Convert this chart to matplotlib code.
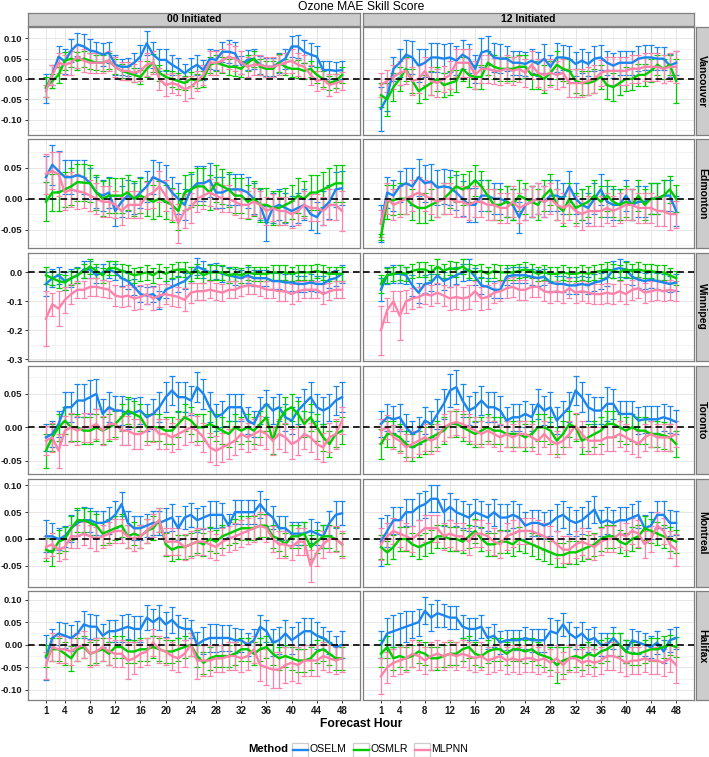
import matplotlib
matplotlib.use('Agg')
import matplotlib.pyplot as plt
from matplotlib.patches import Rectangle
from matplotlib.lines import Line2D

plt.rcParams['font.family'] = ['Liberation Sans', 'DejaVu Sans']

hours = list(range(1, 49))
x_breaks = [1, 4, 8, 12, 16, 20, 24, 28, 32, 36, 40, 44, 48]
methods = ['OSELM', 'OSMLR', 'MLPNN']
colors = ['#1C86EE', '#00CD00', '#FF82AB']
cities = ['Vancouver', 'Edmonton', 'Winnipeg', 'Toronto', 'Montreal', 'Halifax']
inits = ['00 Initiated', '12 Initiated']

# ---------------- Vancouver ----------------
van00_oselm = [-0.023,0.010,0.055,0.043,0.070,0.085,0.080,0.070,0.067,0.060,0.065,0.035,0.030,0.030,0.040,0.055,0.088,0.060,0.047,0.047,0.035,0.026,0.014,0.026,0.035,0.022,0.050,0.047,0.067,0.067,0.063,0.035,0.047,0.050,0.035,0.030,0.030,0.040,0.050,0.080,0.080,0.067,0.060,0.055,0.022,0.022,0.020,0.022]
van00_oselm_err = [0.035,0.025,0.025,0.030,0.028,0.028,0.030,0.028,0.025,0.028,0.025,0.025,0.020,0.022,0.025,0.028,0.030,0.032,0.028,0.028,0.025,0.025,0.022,0.025,0.025,0.025,0.025,0.025,0.025,0.028,0.028,0.022,0.025,0.025,0.022,0.022,0.022,0.025,0.025,0.025,0.028,0.028,0.028,0.025,0.022,0.022,0.022,0.022]
van00_osmlr = [-0.020,-0.005,0.010,0.045,0.050,0.045,0.050,0.045,0.040,0.040,0.045,0.030,0.020,0.015,0.010,0.005,0.025,0.040,0.015,0.005,0.000,-0.005,-0.010,0.000,-0.005,0.000,0.035,0.040,0.035,0.030,0.030,0.025,0.040,0.050,0.030,0.025,0.025,0.040,0.030,0.025,0.025,0.020,0.025,0.010,0.000,-0.010,-0.005,0.010]
van00_osmlr_err = [0.025,0.018,0.020,0.022,0.020,0.022,0.020,0.020,0.018,0.020,0.020,0.018,0.018,0.018,0.018,0.018,0.020,0.022,0.020,0.018,0.020,0.020,0.018,0.018,0.018,0.020,0.020,0.020,0.020,0.020,0.022,0.020,0.020,0.020,0.020,0.020,0.020,0.022,0.020,0.020,0.022,0.020,0.020,0.020,0.020,0.018,0.018,0.020]
van00_mlpnn = [-0.030,0.010,0.040,0.035,0.040,0.055,0.045,0.040,0.040,0.040,0.045,0.030,0.020,0.020,0.015,0.020,0.035,0.040,0.000,-0.015,-0.010,-0.015,-0.025,-0.020,-0.005,0.010,0.040,0.040,0.045,0.055,0.050,0.040,0.030,0.035,0.035,0.030,0.030,0.035,0.040,0.045,0.035,0.030,0.010,-0.005,0.000,-0.015,-0.010,-0.005]
van00_mlpnn_err = [0.015,0.025,0.025,0.025,0.030,0.028,0.028,0.025,0.025,0.025,0.025,0.025,0.022,0.022,0.022,0.025,0.028,0.028,0.028,0.028,0.025,0.025,0.030,0.028,0.025,0.025,0.030,0.030,0.028,0.030,0.030,0.028,0.025,0.025,0.025,0.025,0.025,0.025,0.025,0.030,0.028,0.028,0.025,0.025,0.025,0.028,0.022,0.022]

van12_oselm = [-0.074,-0.045,0.025,0.040,0.060,0.053,0.033,0.040,0.053,0.053,0.050,0.053,0.045,0.060,0.050,0.025,0.065,0.070,0.053,0.050,0.050,0.040,0.040,0.037,0.045,0.037,0.050,0.030,0.053,0.053,0.050,0.037,0.045,0.037,0.050,0.053,0.040,0.033,0.040,0.040,0.040,0.050,0.053,0.053,0.050,0.050,0.033,0.040]
van12_oselm_err = [0.055,0.035,0.030,0.035,0.035,0.040,0.040,0.035,0.035,0.035,0.035,0.035,0.035,0.035,0.035,0.035,0.035,0.035,0.035,0.035,0.030,0.030,0.030,0.030,0.030,0.030,0.035,0.030,0.035,0.030,0.030,0.030,0.030,0.030,0.030,0.030,0.030,0.030,0.030,0.030,0.030,0.030,0.030,0.030,0.028,0.028,0.028,0.030]
van12_osmlr = [-0.040,-0.050,-0.020,0.000,0.025,-0.005,-0.030,-0.020,-0.010,0.000,-0.015,-0.010,-0.005,0.025,0.010,0.005,0.005,0.040,0.030,0.025,0.025,0.025,0.030,0.030,0.010,0.010,0.000,0.015,0.035,0.025,0.020,-0.005,-0.010,-0.010,-0.005,0.005,-0.015,-0.020,-0.010,0.000,0.000,0.010,0.010,0.020,0.035,0.025,0.035,-0.005]
van12_osmlr_err = [0.030,0.040,0.035,0.030,0.030,0.030,0.030,0.030,0.030,0.030,0.030,0.030,0.028,0.030,0.030,0.030,0.030,0.030,0.030,0.030,0.030,0.030,0.030,0.028,0.035,0.035,0.035,0.030,0.035,0.030,0.030,0.030,0.030,0.030,0.030,0.030,0.035,0.035,0.030,0.030,0.028,0.028,0.028,0.028,0.025,0.025,0.025,0.055]
van12_mlpnn = [-0.015,-0.005,0.005,0.015,0.020,-0.005,0.000,0.020,-0.005,-0.010,0.000,0.010,0.040,0.040,0.040,0.010,0.025,0.025,0.020,0.020,0.025,0.020,0.025,0.015,0.035,0.015,0.010,0.015,0.010,0.015,-0.010,-0.010,-0.010,-0.005,0.000,0.015,0.020,0.020,0.020,0.020,0.025,0.025,0.030,0.030,0.030,0.025,0.030,0.030]
van12_mlpnn_err = [0.030,0.028,0.030,0.030,0.032,0.035,0.035,0.035,0.035,0.035,0.032,0.035,0.035,0.035,0.035,0.035,0.035,0.035,0.032,0.035,0.035,0.035,0.032,0.035,0.035,0.035,0.038,0.035,0.035,0.035,0.035,0.035,0.035,0.035,0.035,0.032,0.035,0.035,0.035,0.035,0.035,0.035,0.035,0.035,0.035,0.035,0.035,0.040]

# ---------------- Edmonton ----------------
edm00_oselm = [0.035,0.055,0.045,0.035,0.035,0.038,0.035,0.025,0.010,0.005,0.010,-0.020,-0.005,0.005,0.000,0.010,0.020,0.035,0.030,0.025,0.010,0.000,-0.010,0.015,0.025,0.025,0.030,0.010,0.010,0.015,0.015,0.015,0.010,0.000,-0.010,-0.040,-0.015,-0.010,-0.015,-0.020,-0.015,-0.010,-0.025,-0.030,-0.015,-0.005,0.015,0.017]
edm00_oselm_err = [0.035,0.032,0.032,0.028,0.028,0.025,0.028,0.025,0.025,0.025,0.025,0.025,0.025,0.025,0.025,0.025,0.025,0.028,0.030,0.030,0.025,0.025,0.025,0.025,0.028,0.028,0.028,0.025,0.025,0.025,0.025,0.025,0.025,0.025,0.025,0.028,0.025,0.025,0.025,0.025,0.025,0.025,0.025,0.025,0.028,0.028,0.028,0.028]
edm00_osmlr = [-0.005,0.010,0.010,0.015,0.020,0.027,0.026,0.025,0.010,0.000,0.005,0.005,0.005,0.010,0.000,0.005,0.000,-0.005,0.000,-0.005,-0.010,-0.020,0.010,0.015,0.020,0.020,0.010,0.025,0.020,0.015,0.005,0.005,-0.005,0.000,-0.010,-0.010,-0.015,-0.015,-0.010,-0.005,0.005,0.000,0.010,0.010,0.015,0.020,0.025,0.025]
edm00_osmlr_err = [0.032,0.030,0.030,0.028,0.030,0.030,0.030,0.030,0.028,0.028,0.028,0.028,0.028,0.028,0.028,0.028,0.028,0.028,0.028,0.028,0.028,0.030,0.028,0.028,0.030,0.030,0.028,0.030,0.028,0.028,0.028,0.028,0.028,0.028,0.028,0.028,0.028,0.028,0.028,0.028,0.028,0.028,0.028,0.028,0.028,0.030,0.030,0.030]
edm00_mlpnn = [0.040,0.045,0.040,0.010,0.015,0.012,0.010,0.005,0.000,-0.005,-0.005,-0.010,-0.020,-0.010,-0.010,-0.010,0.005,0.010,0.020,0.005,-0.010,-0.040,-0.020,-0.015,0.000,0.005,0.010,0.005,0.000,0.000,-0.005,-0.010,-0.010,-0.005,-0.010,-0.020,-0.015,-0.020,-0.020,-0.025,-0.020,-0.010,-0.015,-0.015,-0.020,-0.010,-0.010,-0.020]
edm00_mlpnn_err = [0.032,0.030,0.035,0.028,0.028,0.028,0.025,0.025,0.025,0.025,0.025,0.022,0.022,0.022,0.022,0.022,0.022,0.025,0.025,0.025,0.025,0.032,0.028,0.025,0.022,0.022,0.022,0.022,0.022,0.022,0.022,0.022,0.022,0.022,0.022,0.022,0.022,0.022,0.022,0.022,0.022,0.022,0.022,0.022,0.022,0.025,0.025,0.032]

edm12_oselm = [-0.040,0.010,0.005,0.020,0.025,0.020,0.035,0.025,0.028,0.018,0.020,0.018,0.010,0.000,-0.010,-0.010,0.005,0.005,0.000,0.000,-0.005,-0.010,-0.030,-0.010,-0.005,0.000,-0.005,0.005,0.005,0.000,0.020,0.000,-0.010,-0.015,0.000,0.015,-0.005,-0.010,-0.010,0.005,-0.010,-0.005,-0.005,0.000,0.000,0.005,0.005,-0.020]
edm12_oselm_err = [0.030,0.025,0.025,0.025,0.025,0.030,0.030,0.030,0.028,0.028,0.028,0.028,0.028,0.028,0.028,0.028,0.025,0.025,0.025,0.025,0.025,0.025,0.025,0.025,0.025,0.025,0.025,0.025,0.025,0.025,0.025,0.025,0.025,0.025,0.025,0.025,0.025,0.025,0.025,0.025,0.025,0.025,0.025,0.025,0.025,0.025,0.025,0.025]
edm12_osmlr = [-0.062,-0.005,-0.002,0.000,0.000,-0.010,-0.015,-0.015,-0.010,-0.005,0.000,0.010,0.020,0.015,0.020,0.030,0.020,0.005,-0.010,-0.010,-0.005,-0.010,0.005,0.000,-0.005,-0.010,0.005,0.015,-0.010,-0.020,0.000,-0.015,-0.010,-0.005,0.005,-0.005,0.005,-0.005,-0.010,-0.005,-0.010,0.005,-0.010,0.000,0.000,0.005,0.015,0.000]
edm12_osmlr_err = [0.005,0.028,0.025,0.025,0.025,0.025,0.025,0.025,0.025,0.025,0.025,0.025,0.025,0.025,0.025,0.025,0.025,0.025,0.025,0.025,0.025,0.025,0.025,0.025,0.025,0.025,0.025,0.025,0.025,0.025,0.025,0.025,0.025,0.025,0.025,0.025,0.025,0.025,0.025,0.025,0.025,0.025,0.025,0.025,0.025,0.025,0.022,0.022]
edm12_mlpnn = [-0.040,0.000,-0.010,-0.005,0.000,0.005,0.010,0.005,0.000,-0.005,0.000,0.000,-0.005,-0.005,-0.010,-0.005,-0.005,-0.010,-0.010,-0.015,-0.015,-0.005,-0.015,-0.010,-0.005,0.000,-0.005,0.000,-0.010,-0.015,-0.010,-0.020,-0.025,-0.020,-0.020,-0.020,-0.015,-0.020,-0.015,-0.010,-0.010,-0.015,-0.015,-0.015,-0.020,-0.020,-0.025,-0.025]
edm12_mlpnn_err = [0.022,0.025,0.025,0.025,0.025,0.025,0.025,0.025,0.025,0.025,0.025,0.025,0.025,0.025,0.025,0.025,0.025,0.025,0.025,0.025,0.025,0.025,0.025,0.025,0.025,0.025,0.025,0.025,0.025,0.025,0.025,0.025,0.025,0.025,0.025,0.025,0.025,0.025,0.025,0.025,0.025,0.025,0.025,0.025,0.025,0.025,0.025,0.022]

# ---------------- Winnipeg ----------------
win00_oselm = [-0.040,-0.020,-0.010,-0.030,-0.020,-0.010,0.010,0.010,-0.010,0.000,0.010,0.000,-0.020,-0.030,-0.050,-0.075,-0.080,-0.075,-0.095,-0.060,-0.050,-0.040,-0.030,-0.010,0.020,0.010,0.000,0.005,-0.005,-0.010,-0.015,-0.020,-0.010,-0.020,-0.020,-0.020,-0.030,-0.030,-0.035,-0.035,-0.040,-0.040,-0.035,-0.040,-0.040,-0.025,-0.020,-0.005]
win00_oselm_err = [0.040,0.030,0.030,0.030,0.030,0.028,0.028,0.028,0.028,0.028,0.028,0.028,0.028,0.028,0.028,0.028,0.028,0.028,0.030,0.030,0.028,0.028,0.028,0.028,0.030,0.028,0.028,0.028,0.028,0.028,0.028,0.028,0.028,0.028,0.028,0.028,0.028,0.028,0.028,0.028,0.028,0.028,0.028,0.028,0.028,0.028,0.028,0.030]
win00_osmlr = [-0.010,-0.020,-0.030,-0.035,-0.020,-0.010,0.005,0.020,0.005,-0.010,0.015,0.015,0.005,0.000,-0.010,-0.005,0.000,-0.010,0.005,-0.005,0.005,0.010,0.010,-0.005,0.005,-0.010,0.000,0.000,0.000,-0.010,-0.005,-0.010,0.000,-0.005,-0.005,-0.005,0.000,0.000,0.000,-0.005,0.000,0.000,0.000,0.005,0.000,-0.005,-0.005,-0.005]
win00_osmlr_err = [0.030,0.025,0.025,0.025,0.025,0.025,0.025,0.025,0.025,0.025,0.025,0.025,0.025,0.025,0.025,0.025,0.025,0.025,0.025,0.025,0.025,0.025,0.025,0.025,0.025,0.025,0.025,0.025,0.025,0.025,0.025,0.025,0.025,0.025,0.025,0.025,0.025,0.025,0.025,0.025,0.025,0.025,0.025,0.025,0.025,0.025,0.025,0.025]
win00_mlpnn = [-0.160,-0.110,-0.125,-0.095,-0.075,-0.060,-0.060,-0.050,-0.050,-0.055,-0.060,-0.080,-0.085,-0.080,-0.090,-0.085,-0.075,-0.090,-0.080,-0.075,-0.080,-0.085,-0.095,-0.070,-0.065,-0.065,-0.060,-0.065,-0.070,-0.060,-0.060,-0.050,-0.045,-0.045,-0.050,-0.060,-0.060,-0.065,-0.065,-0.075,-0.065,-0.060,-0.060,-0.060,-0.075,-0.065,-0.060,-0.060]
win00_mlpnn_err = [0.095,0.040,0.060,0.045,0.035,0.030,0.030,0.030,0.030,0.030,0.030,0.035,0.035,0.035,0.040,0.040,0.035,0.040,0.040,0.035,0.035,0.035,0.040,0.035,0.030,0.030,0.030,0.030,0.030,0.030,0.030,0.030,0.030,0.030,0.030,0.030,0.030,0.035,0.035,0.035,0.035,0.030,0.030,0.030,0.035,0.030,0.030,0.030]

win12_oselm = [-0.060,-0.010,-0.005,-0.005,-0.010,-0.045,-0.070,-0.040,-0.035,-0.010,-0.030,-0.020,-0.010,0.000,0.010,-0.015,-0.045,-0.050,-0.060,-0.060,-0.015,-0.010,-0.010,-0.010,-0.015,-0.020,-0.015,-0.035,-0.040,-0.040,-0.045,-0.045,-0.040,-0.045,-0.035,-0.030,-0.020,0.010,0.015,0.010,-0.015,-0.025,-0.030,-0.025,-0.030,-0.035,-0.040,-0.035]
win12_oselm_err = [0.040,0.030,0.030,0.030,0.030,0.035,0.035,0.030,0.030,0.030,0.030,0.030,0.030,0.030,0.035,0.030,0.030,0.030,0.030,0.030,0.030,0.028,0.028,0.028,0.028,0.028,0.028,0.028,0.028,0.028,0.028,0.028,0.028,0.028,0.028,0.028,0.028,0.030,0.030,0.030,0.028,0.028,0.028,0.028,0.028,0.028,0.028,0.028]
win12_osmlr = [-0.040,-0.010,-0.005,0.000,-0.005,0.005,0.010,0.010,0.000,0.020,0.005,0.015,0.010,0.020,0.005,0.000,0.005,-0.005,0.005,0.000,0.000,0.000,0.005,0.010,0.005,-0.005,0.000,-0.005,-0.005,0.000,-0.005,-0.005,0.000,-0.005,0.000,0.005,0.010,0.005,0.000,0.010,0.005,0.010,0.005,0.005,0.000,0.000,-0.010,-0.020]
win12_osmlr_err = [0.030,0.025,0.025,0.025,0.025,0.025,0.025,0.025,0.025,0.025,0.025,0.025,0.025,0.025,0.025,0.025,0.025,0.025,0.025,0.025,0.025,0.025,0.025,0.025,0.025,0.025,0.025,0.025,0.025,0.025,0.025,0.025,0.025,0.025,0.025,0.025,0.025,0.025,0.025,0.025,0.025,0.025,0.025,0.025,0.025,0.025,0.025,0.025]
win12_mlpnn = [-0.200,-0.130,-0.100,-0.150,-0.100,-0.090,-0.085,-0.075,-0.080,-0.070,-0.080,-0.090,-0.085,-0.090,-0.085,-0.065,-0.090,-0.085,-0.070,-0.065,-0.055,-0.050,-0.060,-0.060,-0.050,-0.050,-0.065,-0.070,-0.065,-0.070,-0.055,-0.070,-0.065,-0.070,-0.075,-0.075,-0.070,-0.075,-0.065,-0.075,-0.060,-0.055,-0.070,-0.065,-0.060,-0.065,-0.060,-0.065]
win12_mlpnn_err = [0.085,0.040,0.035,0.085,0.040,0.035,0.035,0.035,0.035,0.035,0.035,0.040,0.040,0.040,0.040,0.035,0.040,0.040,0.035,0.035,0.035,0.035,0.035,0.035,0.035,0.035,0.035,0.035,0.035,0.035,0.035,0.035,0.035,0.035,0.035,0.035,0.035,0.035,0.035,0.035,0.035,0.035,0.035,0.035,0.035,0.035,0.035,0.035]

# ---------------- Toronto ----------------
tor00_oselm = [-0.015,-0.010,0.005,0.030,0.030,0.040,0.040,0.045,0.050,0.020,0.030,0.025,0.025,0.020,0.022,0.025,0.015,0.020,0.030,0.045,0.055,0.045,0.045,0.040,0.060,0.050,0.030,0.015,0.020,0.030,0.030,0.030,0.010,0.005,0.025,0.035,0.025,0.030,0.015,0.010,0.025,0.035,0.045,0.030,0.025,0.030,0.040,0.045]
tor00_oselm_err = [0.020,0.020,0.020,0.022,0.022,0.025,0.025,0.025,0.022,0.022,0.022,0.022,0.022,0.022,0.022,0.020,0.020,0.022,0.022,0.022,0.022,0.022,0.022,0.022,0.022,0.022,0.022,0.020,0.020,0.020,0.020,0.020,0.020,0.020,0.020,0.020,0.020,0.020,0.020,0.020,0.020,0.022,0.022,0.020,0.020,0.020,0.022,0.022]
tor00_osmlr = [-0.035,-0.015,0.000,0.010,0.000,0.000,-0.005,-0.005,0.000,-0.005,0.000,0.005,0.015,0.025,0.020,0.015,0.000,0.000,0.000,-0.005,-0.005,0.005,0.015,0.010,0.000,0.000,0.005,0.000,-0.005,-0.010,0.000,-0.005,0.000,-0.005,0.005,0.015,-0.020,0.010,0.025,0.030,0.020,0.005,0.015,0.000,-0.015,-0.025,-0.010,-0.005]
tor00_osmlr_err = [0.025,0.020,0.020,0.020,0.020,0.020,0.020,0.020,0.020,0.020,0.020,0.020,0.020,0.020,0.020,0.020,0.020,0.020,0.020,0.020,0.020,0.020,0.020,0.020,0.020,0.020,0.020,0.020,0.020,0.020,0.020,0.020,0.020,0.020,0.020,0.020,0.020,0.020,0.020,0.020,0.020,0.020,0.020,0.020,0.020,0.020,0.020,0.020]
tor00_mlpnn = [-0.020,-0.015,-0.035,-0.005,0.000,-0.005,0.000,0.000,0.005,-0.005,0.005,0.005,-0.005,-0.005,-0.010,-0.010,-0.005,0.000,-0.010,-0.010,-0.015,-0.010,-0.005,0.000,-0.005,-0.015,-0.030,-0.035,-0.030,-0.025,-0.020,-0.010,-0.015,-0.010,-0.005,-0.010,-0.020,-0.010,-0.015,-0.025,-0.020,-0.010,-0.015,-0.025,-0.030,-0.015,-0.010,0.010]
tor00_mlpnn_err = [0.022,0.022,0.025,0.022,0.022,0.022,0.022,0.022,0.022,0.022,0.022,0.022,0.022,0.022,0.022,0.022,0.022,0.022,0.022,0.022,0.022,0.022,0.022,0.022,0.022,0.022,0.022,0.022,0.022,0.022,0.022,0.022,0.022,0.022,0.022,0.022,0.022,0.022,0.022,0.022,0.022,0.022,0.022,0.022,0.022,0.022,0.022,0.020]

tor12_oselm = [0.005,0.015,0.012,0.015,0.000,-0.010,-0.005,0.010,0.005,0.020,0.035,0.055,0.060,0.040,0.025,0.030,0.040,0.030,0.030,0.025,0.010,0.015,0.015,0.020,0.015,0.035,0.025,0.030,0.010,0.020,0.030,0.055,0.045,0.030,0.025,0.025,0.035,0.035,0.020,0.020,0.020,0.010,0.012,0.012,0.012,0.015,0.012,0.008]
tor12_oselm_err = [0.020,0.020,0.020,0.020,0.020,0.020,0.020,0.020,0.020,0.022,0.022,0.025,0.025,0.025,0.022,0.022,0.022,0.022,0.022,0.022,0.020,0.020,0.020,0.020,0.020,0.022,0.022,0.022,0.020,0.020,0.022,0.022,0.022,0.020,0.020,0.020,0.025,0.022,0.020,0.020,0.020,0.020,0.020,0.020,0.020,0.020,0.020,0.018]
tor12_osmlr = [-0.025,-0.010,-0.010,-0.015,-0.025,-0.030,-0.025,-0.020,-0.015,-0.010,-0.005,0.005,0.005,0.000,-0.005,-0.010,-0.005,0.000,-0.005,-0.005,-0.010,-0.010,-0.010,-0.015,-0.010,0.000,0.000,-0.005,-0.020,-0.010,0.005,0.000,-0.020,-0.015,-0.010,-0.005,0.005,0.005,0.000,-0.005,0.000,-0.005,-0.005,-0.010,-0.010,-0.012,-0.015,-0.025]
tor12_osmlr_err = [0.022,0.020,0.020,0.020,0.020,0.020,0.020,0.020,0.020,0.020,0.020,0.020,0.020,0.020,0.020,0.020,0.020,0.020,0.020,0.020,0.020,0.020,0.020,0.020,0.020,0.020,0.020,0.020,0.020,0.020,0.020,0.020,0.020,0.020,0.020,0.020,0.020,0.020,0.020,0.020,0.020,0.020,0.020,0.020,0.020,0.020,0.020,0.020]
tor12_mlpnn = [-0.005,0.000,-0.015,-0.020,-0.030,-0.025,-0.020,-0.015,-0.020,-0.015,0.000,0.005,0.008,0.005,0.000,-0.005,-0.010,-0.005,-0.010,-0.015,-0.010,-0.015,-0.010,-0.010,-0.015,-0.020,-0.010,-0.020,-0.025,-0.020,-0.010,0.002,-0.010,-0.020,-0.020,-0.020,-0.015,-0.015,-0.010,-0.015,-0.020,-0.025,-0.015,-0.010,-0.015,-0.015,-0.015,-0.010]
tor12_mlpnn_err = [0.018,0.018,0.018,0.018,0.020,0.020,0.020,0.020,0.020,0.020,0.020,0.020,0.020,0.020,0.020,0.020,0.020,0.020,0.020,0.020,0.020,0.020,0.020,0.020,0.020,0.020,0.020,0.020,0.020,0.020,0.020,0.020,0.020,0.020,0.020,0.020,0.020,0.020,0.020,0.020,0.020,0.020,0.020,0.020,0.020,0.020,0.020,0.020]

# ---------------- Montreal ----------------
mtl00_oselm = [0.005,0.005,0.000,0.005,0.020,0.030,0.035,0.035,0.030,0.030,0.035,0.045,0.065,0.030,0.020,0.020,0.025,0.030,0.030,0.035,0.040,0.020,0.040,0.045,0.035,0.040,0.045,0.045,0.045,0.025,0.050,0.050,0.050,0.050,0.065,0.050,0.040,0.020,0.020,0.010,0.010,0.010,0.015,0.010,0.005,0.030,0.045,0.048]
mtl00_oselm_err = [0.030,0.025,0.020,0.020,0.025,0.025,0.025,0.022,0.022,0.022,0.025,0.025,0.022,0.022,0.022,0.022,0.022,0.022,0.022,0.022,0.025,0.022,0.022,0.022,0.022,0.022,0.025,0.025,0.022,0.022,0.022,0.022,0.022,0.022,0.025,0.025,0.022,0.022,0.022,0.022,0.022,0.022,0.022,0.022,0.022,0.022,0.025,0.022]
mtl00_osmlr = [-0.020,-0.025,-0.005,0.000,0.020,0.035,0.035,0.030,0.025,0.010,0.015,0.020,0.025,0.005,0.010,0.005,0.015,0.020,0.035,-0.010,-0.020,-0.015,-0.015,-0.010,-0.005,-0.010,0.000,-0.005,0.005,0.010,0.015,0.020,0.020,0.020,0.025,0.025,0.005,0.000,-0.010,0.005,0.005,0.010,-0.015,-0.005,0.005,0.005,0.000,-0.010]
mtl00_osmlr_err = [0.022,0.025,0.022,0.022,0.022,0.022,0.022,0.022,0.022,0.022,0.022,0.022,0.022,0.022,0.022,0.022,0.022,0.022,0.022,0.022,0.022,0.022,0.022,0.022,0.022,0.022,0.022,0.022,0.022,0.022,0.022,0.022,0.022,0.022,0.022,0.022,0.022,0.022,0.022,0.022,0.022,0.022,0.022,0.022,0.022,0.022,0.022,0.022]
mtl00_mlpnn = [-0.015,-0.010,-0.020,-0.015,0.005,0.005,0.010,0.005,0.000,0.005,0.010,0.015,0.015,0.005,0.000,0.005,0.015,0.025,0.035,-0.005,-0.005,-0.005,-0.015,-0.010,-0.005,-0.005,-0.010,-0.015,-0.005,0.000,0.005,0.010,0.015,0.020,0.025,0.020,0.000,-0.010,-0.010,-0.015,-0.005,-0.005,-0.050,-0.025,-0.010,0.000,0.000,-0.010]
mtl00_mlpnn_err = [0.020,0.022,0.022,0.022,0.022,0.022,0.022,0.022,0.022,0.022,0.022,0.022,0.022,0.022,0.022,0.022,0.022,0.022,0.022,0.025,0.025,0.025,0.025,0.025,0.025,0.025,0.025,0.025,0.025,0.025,0.025,0.025,0.025,0.025,0.025,0.025,0.025,0.025,0.025,0.025,0.025,0.025,0.030,0.025,0.025,0.025,0.025,0.025]

mtl12_oselm = [-0.005,0.015,0.035,0.035,0.050,0.050,0.060,0.065,0.075,0.075,0.050,0.060,0.050,0.045,0.040,0.050,0.045,0.040,0.050,0.040,0.040,0.045,0.040,0.025,0.030,0.030,0.025,0.030,0.040,0.045,0.035,0.030,0.035,0.045,0.055,0.030,0.035,0.030,0.035,0.035,0.040,0.045,0.020,0.025,0.045,0.045,0.030,0.030]
mtl12_oselm_err = [0.045,0.030,0.025,0.025,0.025,0.025,0.025,0.025,0.025,0.025,0.025,0.025,0.025,0.025,0.025,0.025,0.025,0.025,0.025,0.025,0.025,0.025,0.025,0.025,0.025,0.025,0.025,0.025,0.025,0.025,0.025,0.025,0.025,0.025,0.025,0.025,0.025,0.025,0.025,0.025,0.025,0.025,0.025,0.025,0.025,0.025,0.025,0.022]
mtl12_osmlr = [-0.015,-0.025,-0.015,0.000,0.000,-0.010,-0.015,-0.010,-0.005,0.005,0.005,0.000,0.000,-0.005,0.005,0.015,0.000,-0.010,-0.010,-0.005,-0.005,-0.010,0.000,-0.005,-0.010,-0.015,-0.020,-0.025,-0.030,-0.030,-0.025,-0.025,-0.020,-0.015,-0.010,0.000,0.005,0.005,-0.005,-0.010,0.000,0.005,0.020,0.015,0.010,0.005,0.000,-0.005]
mtl12_osmlr_err = [0.022,0.022,0.022,0.022,0.022,0.022,0.022,0.022,0.022,0.022,0.022,0.022,0.022,0.022,0.022,0.022,0.022,0.022,0.022,0.022,0.022,0.022,0.022,0.022,0.022,0.022,0.022,0.022,0.022,0.022,0.022,0.022,0.022,0.022,0.022,0.022,0.022,0.022,0.022,0.022,0.022,0.022,0.022,0.022,0.022,0.022,0.022,0.022]
mtl12_mlpnn = [-0.010,0.005,0.015,0.010,0.005,0.000,0.010,0.020,0.020,0.020,0.005,0.010,0.005,0.005,-0.005,0.010,0.010,0.005,-0.005,-0.010,0.005,0.010,0.015,0.015,0.015,0.010,0.005,0.000,-0.010,-0.020,-0.020,-0.010,-0.005,-0.010,-0.015,-0.005,0.000,0.000,0.010,0.005,0.015,0.010,-0.010,0.000,0.025,0.015,-0.010,-0.020]
mtl12_mlpnn_err = [0.030,0.025,0.025,0.025,0.025,0.025,0.025,0.025,0.025,0.025,0.025,0.025,0.025,0.025,0.025,0.025,0.025,0.025,0.025,0.025,0.025,0.025,0.025,0.025,0.025,0.025,0.025,0.025,0.025,0.025,0.025,0.025,0.025,0.025,0.025,0.025,0.025,0.025,0.025,0.025,0.025,0.025,0.025,0.025,0.025,0.025,0.025,0.030]

# ---------------- Halifax ----------------
hfx00_oselm = [-0.028,0.015,0.025,0.020,0.015,0.025,0.045,0.040,0.040,0.020,0.030,0.030,0.035,0.040,0.035,0.035,0.060,0.050,0.060,0.045,0.055,0.040,0.035,0.035,0.000,0.010,0.015,0.015,0.015,0.015,0.010,0.010,0.000,0.010,0.040,0.030,0.005,0.010,0.025,0.010,0.020,0.030,0.030,0.020,0.015,0.005,-0.005,0.000]
hfx00_oselm_err = [0.050,0.020,0.025,0.028,0.028,0.028,0.030,0.028,0.025,0.025,0.025,0.025,0.030,0.028,0.028,0.028,0.028,0.030,0.028,0.028,0.028,0.025,0.025,0.020,0.028,0.030,0.030,0.030,0.028,0.028,0.028,0.025,0.025,0.025,0.025,0.025,0.030,0.030,0.030,0.030,0.030,0.030,0.030,0.030,0.025,0.025,0.025,0.030]
hfx00_osmlr = [-0.025,-0.010,-0.010,-0.020,-0.030,-0.010,-0.005,-0.020,-0.015,-0.010,-0.020,-0.005,-0.005,-0.015,-0.015,-0.010,-0.010,-0.005,-0.010,-0.015,-0.015,-0.010,-0.005,0.000,-0.025,-0.040,-0.030,-0.025,-0.025,-0.025,-0.020,-0.010,-0.010,-0.020,-0.010,-0.005,-0.020,-0.030,-0.025,-0.030,-0.035,-0.035,-0.030,-0.015,-0.010,-0.020,-0.030,-0.030]
hfx00_osmlr_err = [0.025,0.025,0.025,0.025,0.028,0.025,0.025,0.025,0.025,0.025,0.025,0.025,0.025,0.025,0.025,0.025,0.025,0.025,0.025,0.025,0.025,0.025,0.025,0.025,0.025,0.025,0.025,0.025,0.025,0.025,0.025,0.025,0.025,0.025,0.025,0.025,0.025,0.025,0.025,0.025,0.025,0.025,0.025,0.025,0.025,0.025,0.025,0.025]
hfx00_mlpnn = [-0.045,-0.005,-0.010,-0.010,-0.015,-0.005,0.000,-0.020,-0.015,-0.005,-0.015,-0.020,-0.020,-0.035,-0.030,-0.020,-0.015,0.005,-0.010,-0.015,-0.025,-0.030,-0.020,0.000,-0.035,-0.035,-0.035,-0.030,-0.030,-0.025,-0.025,-0.030,-0.025,-0.010,-0.045,-0.050,-0.055,-0.055,-0.045,-0.040,-0.045,-0.035,-0.035,-0.035,-0.025,-0.030,-0.035,-0.030]
hfx00_mlpnn_err = [0.030,0.030,0.030,0.030,0.030,0.030,0.030,0.030,0.030,0.030,0.030,0.030,0.030,0.040,0.035,0.030,0.030,0.030,0.030,0.030,0.030,0.030,0.030,0.025,0.040,0.035,0.035,0.030,0.030,0.030,0.030,0.030,0.030,0.030,0.035,0.040,0.040,0.040,0.040,0.040,0.040,0.035,0.035,0.035,0.030,0.030,0.030,0.030]

hfx12_oselm = [0.000,0.025,0.030,0.035,0.040,0.045,0.050,0.075,0.060,0.070,0.065,0.060,0.060,0.040,0.035,0.035,0.040,0.015,0.020,0.005,0.010,0.010,0.010,0.015,0.010,0.010,0.010,0.030,0.025,0.045,0.025,0.015,0.025,0.010,0.015,0.000,0.000,0.015,0.000,-0.015,0.010,0.005,0.000,-0.005,0.005,-0.015,0.010,0.015]
hfx12_oselm_err = [0.030,0.035,0.035,0.035,0.035,0.030,0.030,0.030,0.030,0.030,0.025,0.025,0.025,0.025,0.025,0.025,0.025,0.025,0.025,0.025,0.022,0.022,0.022,0.025,0.025,0.025,0.025,0.030,0.030,0.025,0.025,0.025,0.025,0.025,0.025,0.025,0.025,0.025,0.025,0.025,0.025,0.025,0.025,0.025,0.025,0.025,0.025,0.025]
hfx12_osmlr = [-0.020,-0.005,-0.030,-0.025,-0.030,-0.025,-0.015,-0.020,-0.030,-0.030,-0.025,-0.020,-0.020,-0.010,-0.005,-0.020,-0.025,-0.015,-0.010,-0.010,-0.020,-0.010,-0.010,-0.015,-0.010,-0.020,-0.025,-0.030,-0.045,-0.035,-0.030,-0.025,-0.030,-0.020,-0.025,-0.015,-0.010,0.000,0.000,-0.015,-0.020,-0.020,-0.015,-0.010,-0.010,-0.005,0.000,-0.005]
hfx12_osmlr_err = [0.030,0.025,0.025,0.025,0.025,0.025,0.025,0.025,0.025,0.025,0.025,0.025,0.025,0.025,0.025,0.025,0.025,0.025,0.025,0.025,0.025,0.025,0.025,0.025,0.025,0.025,0.025,0.025,0.040,0.030,0.025,0.025,0.025,0.025,0.025,0.025,0.025,0.025,0.025,0.025,0.025,0.025,0.025,0.025,0.025,0.025,0.022,0.022]
hfx12_mlpnn = [-0.070,-0.050,-0.040,-0.035,-0.030,-0.020,-0.025,-0.035,-0.025,-0.020,-0.025,-0.020,-0.025,-0.020,-0.025,-0.030,-0.025,-0.035,-0.030,-0.025,-0.035,-0.030,-0.035,-0.030,-0.030,-0.035,-0.030,-0.040,-0.030,-0.045,-0.030,-0.030,-0.040,-0.035,-0.040,-0.035,-0.025,-0.025,-0.030,-0.040,-0.035,-0.035,-0.030,-0.035,-0.035,-0.040,-0.030,-0.045]
hfx12_mlpnn_err = [0.040,0.035,0.030,0.030,0.030,0.030,0.030,0.030,0.030,0.030,0.030,0.030,0.030,0.030,0.030,0.030,0.030,0.030,0.030,0.030,0.030,0.030,0.030,0.030,0.030,0.030,0.030,0.030,0.030,0.030,0.030,0.030,0.030,0.030,0.030,0.030,0.030,0.030,0.030,0.030,0.030,0.030,0.030,0.030,0.030,0.030,0.030,0.040]

# table built from the named lists: panels[row][col] -> list of (mean, err) per method
panels = [
    [[(van00_oselm, van00_oselm_err), (van00_osmlr, van00_osmlr_err), (van00_mlpnn, van00_mlpnn_err)],
     [(van12_oselm, van12_oselm_err), (van12_osmlr, van12_osmlr_err), (van12_mlpnn, van12_mlpnn_err)]],
    [[(edm00_oselm, edm00_oselm_err), (edm00_osmlr, edm00_osmlr_err), (edm00_mlpnn, edm00_mlpnn_err)],
     [(edm12_oselm, edm12_oselm_err), (edm12_osmlr, edm12_osmlr_err), (edm12_mlpnn, edm12_mlpnn_err)]],
    [[(win00_oselm, win00_oselm_err), (win00_osmlr, win00_osmlr_err), (win00_mlpnn, win00_mlpnn_err)],
     [(win12_oselm, win12_oselm_err), (win12_osmlr, win12_osmlr_err), (win12_mlpnn, win12_mlpnn_err)]],
    [[(tor00_oselm, tor00_oselm_err), (tor00_osmlr, tor00_osmlr_err), (tor00_mlpnn, tor00_mlpnn_err)],
     [(tor12_oselm, tor12_oselm_err), (tor12_osmlr, tor12_osmlr_err), (tor12_mlpnn, tor12_mlpnn_err)]],
    [[(mtl00_oselm, mtl00_oselm_err), (mtl00_osmlr, mtl00_osmlr_err), (mtl00_mlpnn, mtl00_mlpnn_err)],
     [(mtl12_oselm, mtl12_oselm_err), (mtl12_osmlr, mtl12_osmlr_err), (mtl12_mlpnn, mtl12_mlpnn_err)]],
    [[(hfx00_oselm, hfx00_oselm_err), (hfx00_osmlr, hfx00_osmlr_err), (hfx00_mlpnn, hfx00_mlpnn_err)],
     [(hfx12_oselm, hfx12_oselm_err), (hfx12_osmlr, hfx12_osmlr_err), (hfx12_mlpnn, hfx12_mlpnn_err)]],
]

row_yticks = [
    [-0.10, -0.05, 0.00, 0.05, 0.10],
    [-0.05, 0.00, 0.05],
    [-0.3, -0.2, -0.1, 0.0],
    [-0.05, 0.00, 0.05],
    [-0.05, 0.00, 0.05, 0.10],
    [-0.10, -0.05, 0.00, 0.05, 0.10],
]
row_ylabels = [
    ['-0.10', '-0.05', '0.00', '0.05', '0.10'],
    ['-0.05', '0.00', '0.05'],
    ['-0.3', '-0.2', '-0.1', '0.0'],
    ['-0.05', '0.00', '0.05'],
    ['-0.05', '0.00', '0.05', '0.10'],
    ['-0.10', '-0.05', '0.00', '0.05', '0.10'],
]
row_ylims = [(-0.138, 0.128), (-0.0805, 0.0964), (-0.306, 0.068),
             (-0.0697, 0.092), (-0.0896, 0.1125), (-0.123, 0.119)]

# ---------------- layout (pixels) ----------------
W, H = 709, 757
fig = plt.figure(figsize=(W / 100, H / 100), dpi=100)
col_x = [(28, 360), (363, 694)]
row_y = [(27, 135), (139.3, 248.3), (252.7, 361), (365.7, 474), (478.7, 587), (591, 700.3)]
border = '#7F7F7F'


def px_axes(x0, y0, x1, y1):
    return fig.add_axes([x0 / W, 1 - y1 / H, (x1 - x0) / W, (y1 - y0) / H])


x_minor = [(a + b) / 2 for a, b in zip(x_breaks[:-1], x_breaks[1:])]

for r in range(6):
    yt = row_yticks[r]
    step = yt[1] - yt[0]
    y_minor = [yt[0] - step / 2] + [v + step / 2 for v in yt]
    for c in range(2):
        x0, x1 = col_x[c]
        y0, y1 = row_y[r]
        ax = px_axes(x0, y0, x1, y1)
        ax.set_xlim(-1.85, 50.85)
        ax.set_xticks(x_breaks)
        ax.set_xticks(x_minor, minor=True)
        ax.set_yticks(yt)
        ax.set_yticks(y_minor, minor=True)
        ax.set_ylim(*row_ylims[r])
        ax.grid(which='major', color='#E2E2E2', lw=0.6)
        ax.grid(which='minor', color='#EFEFEF', lw=0.5)
        ax.set_axisbelow(True)
        for s in ax.spines.values():
            s.set_color(border)
            s.set_linewidth(0.9)
        ax.tick_params(which='minor', length=0)
        ax.tick_params(which='major', length=2.4, width=0.7, color='#333333', pad=1.5)
        if c == 0:
            ax.set_yticklabels(row_ylabels[r], fontsize=6.8, fontweight='bold', color='#1A1A1A')
        else:
            ax.tick_params(axis='y', which='major', length=0, labelleft=False)
        if r == 5:
            ax.set_xticklabels([str(v) for v in x_breaks], fontsize=7, fontweight='bold', color='#1A1A1A')
        else:
            ax.tick_params(axis='x', which='major', length=0, labelbottom=False)

        series = panels[r][c]
        for (mean, err), col in zip(series, colors):
            ax.errorbar(hours, mean, yerr=err, fmt='none', ecolor=col, elinewidth=0.9,
                        capsize=2.0, capthick=0.9, zorder=2)
        for (mean, err), col in zip(series, colors):
            ax.plot(hours, mean, color=col, lw=1.7, zorder=3, solid_joinstyle='round')
        ax.axhline(0, color='black', lw=1.2, ls=(0, (4, 2.5)), zorder=4)

        if r == 0:
            sx = px_axes(x0, 12.7, x1, 26)
            sx.set_facecolor('#CCCCCC')
            sx.set_xticks([]); sx.set_yticks([])
            for s in sx.spines.values():
                s.set_color(border); s.set_linewidth(0.9)
            sx.text(0.5, 0.5, inits[c], ha='center', va='center', fontsize=7.5,
                    fontweight='bold', transform=sx.transAxes)
        if c == 1:
            sx = px_axes(696, y0, 710, y1)
            sx.set_facecolor('#CCCCCC')
            sx.set_xticks([]); sx.set_yticks([])
            for s in sx.spines.values():
                s.set_color(border); s.set_linewidth(0.9)
            sx.text(0.45, 0.5, cities[r], ha='center', va='center', fontsize=7.5,
                    fontweight='bold', rotation=-90, transform=sx.transAxes)

fig.text(361 / W, 1 - 6.5 / H, 'Ozone MAE Skill Score', ha='center', va='center', fontsize=8.7)
fig.text(361 / W, 1 - 724 / H, 'Forecast Hour', ha='center', va='center', fontsize=8.7,
         fontweight='bold')

# legend
lax = fig.add_axes([0, 0, 1, 1])
lax.set_xlim(0, W)
lax.set_ylim(H, 0)
lax.axis('off')
lax.text(248, 749.5, 'Method', ha='left', va='center', fontsize=8.1, fontweight='bold')
key_x = [292, 353, 414]
for kx, name, col in zip(key_x, methods, colors):
    lax.add_patch(Rectangle((kx, 742.7), 16, 14, facecolor='white', edgecolor='#CCCCCC', lw=0.9))
    lax.add_line(Line2D([kx + 0.5, kx + 15.5], [749.7, 749.7], color=col, lw=1.7))
    lax.text(kx + 17.5, 749.5, name, ha='left', va='center', fontsize=7.6)

fig.savefig('out.png', dpi=100)
